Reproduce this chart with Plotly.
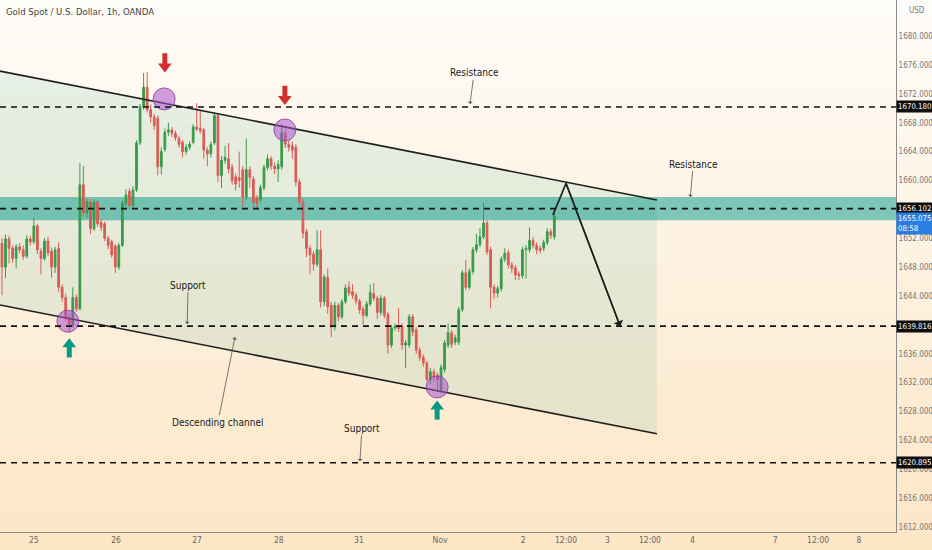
import plotly.graph_objects as go

# ---------------- data ----------------
opens = [1651.3,1648.0,1651.9,1650.6,1649.2,1650.8,1650.4,1649.5,1651.9,1651.5,
         1653.7,1650.2,1649.2,1651.6,1650.2,1648.0,1650.6,1645.2,1643.8,1641.1,
         1639.9,1643.8,1642.2,1659.4,1655.5,1657.0,1653.3,1657.0,1654.2,1654.0,
         1652.0,1651.5,1650.9,1648.0,1651.0,1656.8,1658.5,1656.5,1658.7,1665.2,
         1670.2,1672.9,1669.8,1668.8,1668.6,1661.9,1664.3,1666.7,1667.0,1666.5,
         1665.8,1665.3,1664.0,1664.6,1665.3,1667.4,1667.2,1667.0,1664.2,1663.7,
         1665.2,1669.0,1660.7,1662.8,1663.0,1661.8,1660.5,1660.4,1661.5,1657.7,
         1661.5,1660.2,1657.6,1657.4,1659.0,1661.8,1663.0,1662.0,1661.6,1661.9,
         1666.5,1665.0,1664.8,1664.6,1659.8,1657.0,1652.9,1650.6,1649.8,1648.4,
         1650.4,1643.2,1646.6,1642.7,1639.7,1642.7,1641.1,1643.2,1645.2,1644.6,
         1644.1,1643.3,1642.2,1641.3,1642.9,1644.3,1643.7,1641.7,1643.7,1641.4,
         1637.2,1639.6,1639.9,1639.8,1637.2,1637.2,1641.1,1639.3,1636.5,1635.5,
         1634.7,1632.4,1633.5,1633.0,1631.0,1633.8,1637.2,1638.9,1637.6,1637.6,
         1642.1,1647.2,1645.2,1647.4,1650.4,1651.1,1652.2,1654.1,1650.4,1645.2,
         1644.4,1645.0,1649.1,1650.0,1648.3,1647.9,1647.0,1646.8,1650.4,1650.4,
         1651.7,1651.0,1650.6,1650.6,1651.4,1652.9,1652.2]
highs = [1652.0,1652.5,1652.3,1651.0,1651.2,1651.3,1651.0,1652.4,1652.3,1654.9,
         1654.0,1650.6,1652.0,1652.2,1650.7,1650.8,1651.4,1645.6,1644.3,1641.6,
         1645.2,1644.2,1662.4,1662.0,1657.5,1657.4,1657.4,1657.3,1654.6,1654.3,
         1652.3,1651.8,1651.2,1651.4,1657.2,1658.8,1658.9,1659.2,1665.6,1670.6,
         1674.9,1675.0,1670.5,1669.2,1669.0,1664.6,1667.2,1668.0,1667.4,1666.9,
         1666.2,1665.6,1665.0,1665.4,1667.8,1670.7,1669.8,1667.3,1664.6,1665.4,
         1669.4,1669.3,1663.4,1664.8,1665.2,1662.3,1661.0,1664.0,1662.0,1665.8,
         1662.0,1660.6,1658.0,1659.4,1662.2,1663.6,1663.4,1662.5,1662.8,1667.8,
         1667.0,1665.5,1665.4,1665.0,1660.2,1657.4,1653.3,1651.0,1650.2,1653.1,
         1653.1,1647.0,1647.8,1643.2,1643.2,1643.0,1643.6,1645.6,1646.0,1645.6,
         1644.5,1643.6,1642.6,1643.3,1645.6,1645.8,1644.0,1644.1,1644.0,1641.8,
         1640.0,1640.2,1642.3,1640.2,1637.9,1641.5,1641.5,1639.7,1636.9,1635.9,
         1635.0,1634.0,1633.9,1633.4,1634.5,1637.9,1640.2,1639.3,1638.6,1642.5,
         1647.6,1649.0,1647.8,1650.8,1652.6,1653.4,1656.9,1654.5,1650.8,1645.6,
         1645.4,1649.5,1650.6,1650.4,1648.7,1648.3,1647.4,1650.8,1651.0,1653.5,
         1652.2,1651.4,1651.0,1651.8,1653.4,1653.3,1655.9]
lows = [1644.1,1646.5,1648.5,1648.6,1647.8,1649.9,1649.0,1649.2,1651.0,1651.2,
        1649.8,1647.0,1648.9,1649.5,1646.5,1647.2,1644.6,1643.2,1640.5,1638.9,
        1639.6,1641.8,1642.0,1655.0,1654.8,1652.6,1653.0,1653.6,1653.0,1651.6,
        1650.5,1649.3,1647.2,1647.6,1650.8,1656.4,1656.0,1655.9,1658.4,1664.9,
        1669.8,1669.4,1668.0,1667.0,1660.7,1660.8,1664.0,1666.2,1666.0,1665.5,
        1664.5,1663.2,1663.6,1664.2,1665.0,1666.8,1666.5,1663.0,1662.0,1663.2,
        1664.9,1659.8,1659.0,1662.3,1661.0,1659.4,1658.6,1659.0,1656.3,1657.3,
        1659.0,1656.2,1656.0,1657.0,1658.6,1661.4,1661.5,1660.9,1659.8,1661.5,
        1664.5,1664.0,1663.0,1659.2,1656.4,1652.0,1649.4,1647.0,1647.5,1648.0,
        1642.4,1642.6,1641.5,1638.3,1639.2,1640.5,1640.8,1642.9,1644.0,1643.6,
        1642.8,1641.5,1640.0,1641.0,1642.6,1643.3,1640.8,1641.3,1640.9,1636.0,
        1636.8,1639.2,1639.0,1636.5,1634.0,1636.8,1638.4,1636.0,1635.0,1634.2,
        1632.2,1631.8,1632.2,1630.7,1630.6,1633.4,1636.8,1636.8,1637.2,1637.2,
        1641.8,1644.8,1644.9,1647.0,1650.0,1650.8,1651.9,1649.7,1642.3,1643.6,
        1643.8,1644.6,1648.7,1647.8,1647.2,1646.2,1646.2,1646.4,1646.4,1650.0,
        1650.6,1649.8,1649.9,1650.2,1651.0,1651.9,1651.8]
closes = [1648.0,1651.9,1650.6,1649.2,1650.8,1650.4,1649.5,1651.9,1651.5,1653.7,
          1650.4,1649.2,1651.6,1650.0,1648.0,1650.4,1645.2,1643.8,1641.1,1639.9,
          1643.8,1642.2,1659.4,1655.5,1657.0,1653.3,1657.0,1654.0,1653.5,1652.0,
          1651.0,1649.7,1648.0,1651.0,1656.8,1658.0,1656.5,1658.7,1665.2,1670.2,
          1672.9,1669.8,1668.8,1667.6,1661.9,1664.0,1666.7,1667.0,1666.5,1665.9,
          1665.0,1664.0,1664.6,1665.0,1667.4,1667.1,1666.9,1664.2,1663.7,1665.0,
          1669.0,1660.7,1662.8,1663.2,1661.6,1660.0,1659.5,1660.0,1657.7,1661.5,
          1660.4,1657.0,1656.8,1659.0,1661.8,1663.0,1662.0,1661.6,1662.2,1666.6,
          1665.0,1664.6,1664.2,1659.8,1657.0,1652.7,1650.6,1649.7,1648.4,1650.4,
          1643.2,1646.6,1642.5,1639.7,1642.7,1641.1,1643.2,1645.1,1644.4,1644.1,
          1643.3,1642.1,1641.3,1642.9,1644.5,1643.7,1641.7,1643.7,1641.3,1637.2,
          1639.6,1639.8,1639.5,1637.2,1637.5,1641.1,1639.0,1636.5,1635.5,1634.7,
          1632.4,1633.5,1632.8,1632.4,1634.1,1637.5,1638.9,1637.3,1638.2,1642.1,
          1647.2,1645.2,1647.4,1650.4,1651.1,1652.2,1654.1,1650.1,1645.2,1644.4,
          1645.0,1649.1,1649.9,1648.3,1647.8,1646.9,1646.8,1650.4,1650.6,1651.7,
          1651.0,1650.4,1650.3,1651.4,1652.9,1652.4,1655.075]
bars = list(range(len(closes)))

tick_pos = [9.0, 32.2, 55.1, 78.2, 100.8, 123.7, 147.2, 159.3, 171.0, 183.0, 195.0, 218.4, 230.5, 242.0]
tick_text = ["25", "26", "27", "28", "31", "Nov", "2", "12:00", "3", "12:00", "4", "7", "12:00", "8"]
price_ticks = [1612, 1616, 1620, 1624, 1628, 1632, 1636, 1640, 1644, 1648, 1652, 1656,
               1660, 1664, 1668, 1672, 1676, 1680]

level_values = [1670.180, 1656.102, 1639.816, 1620.895]
level_labels = ["1670.180", "1656.102", "1639.816", "1620.895"]
zone_low, zone_high = 1654.5, 1657.7
last_price_label = "1655.075<br>08:58"

channel_x = [-0.56, 185.0]
channel_upper = [1675.15, 1657.3]
channel_lower = [1642.74, 1624.9]

circle_x = [45.8, 79.9, 18.6, 122.9]
circle_y = [1671.3, 1667.0, 1640.5, 1631.4]
down_arrow_x = [46.0, 79.9]
down_arrow_y = [1676.3, 1671.8]
up_arrow_x = [19.0, 122.9]
up_arrow_y = [1636.8, 1628.2]

proj_x = [155.6, 159.3, 174.6]
proj_y = [1655.2, 1659.6, 1639.8]

notes = [  # text, tip x, tip y, ax, ay
    ("Resistance", 132.2, 1670.6, 4, -31),
    ("Resistance", 194.4, 1657.7, 3, -33),
    ("Support", 52.3, 1640.1, 1, -39),
    ("Support", 101.1, 1621.1, 2, -33),
    ("Descending channel", 65.8, 1638.3, -17, 85),
]

X_RANGE = [-0.56, 252.5]
Y_RANGE = [1611.3, 1685.0]
FONT = "DejaVu Sans Condensed, Liberation Sans Narrow, Liberation Sans, sans-serif"

fig = go.Figure()

# gradient background bands
n_bands = 40
top_rgb = (254, 252, 248)
bot_rgb = (253, 230, 198)
shapes = []
y_lo, y_hi = -18 / 532, 1.0
for k in range(n_bands):
    t = k / (n_bands - 1)
    r = round(bot_rgb[0] + (top_rgb[0] - bot_rgb[0]) * t)
    g = round(bot_rgb[1] + (top_rgb[1] - bot_rgb[1]) * t)
    b = round(bot_rgb[2] + (top_rgb[2] - bot_rgb[2]) * t)
    y0 = y_lo + (y_hi - y_lo) * k / n_bands
    y1 = y_lo + (y_hi - y_lo) * (k + 1) / n_bands + 0.002
    shapes.append(dict(type="rect", xref="paper", yref="paper", x0=0, x1=1.05,
                       y0=y0, y1=y1, fillcolor=f"rgb({r},{g},{b})",
                       line=dict(width=0), layer="below"))

# teal zone
shapes.append(dict(type="rect", xref="paper", yref="y", x0=0, x1=1,
                   y0=zone_low, y1=zone_high, fillcolor="rgba(38,166,154,0.6)",
                   line=dict(width=0), layer="below"))

# channel shading
fig.add_trace(go.Scatter(
    x=[channel_x[0], channel_x[1], channel_x[1], channel_x[0], channel_x[0]],
    y=[channel_upper[0], channel_upper[1], channel_lower[1], channel_lower[0], channel_upper[0]],
    fill="toself", fillcolor="rgba(40,165,125,0.11)", mode="none",
    hoverinfo="skip", showlegend=False))

# candles
fig.add_trace(go.Candlestick(
    x=bars, open=opens, high=highs, low=lows, close=closes,
    increasing=dict(line=dict(color="#3a9a45", width=1), fillcolor="#3a9a45"),
    decreasing=dict(line=dict(color="#ef5350", width=1), fillcolor="#ef5350"),
    whiskerwidth=0, showlegend=False, hoverinfo="skip"))

# dashed levels
for v in level_values:
    shapes.append(dict(type="line", xref="paper", yref="y", x0=0, x1=1, y0=v, y1=v,
                       line=dict(color="#111", width=1.6, dash="6px,5px")))

# channel lines
fig.add_trace(go.Scatter(x=channel_x, y=channel_upper, mode="lines",
                         line=dict(color="#1e1e1e", width=1.6), showlegend=False, hoverinfo="skip"))
fig.add_trace(go.Scatter(x=channel_x, y=channel_lower, mode="lines",
                         line=dict(color="#1e1e1e", width=1.6), showlegend=False, hoverinfo="skip"))

# circles
fig.add_trace(go.Scatter(x=circle_x, y=circle_y, mode="markers",
                         marker=dict(size=22, color="rgba(170,80,200,0.55)",
                                     line=dict(color="rgba(140,60,170,0.8)", width=1)),
                         showlegend=False, hoverinfo="skip"))

# block arrows (shaft + head)
fig.add_trace(go.Scatter(x=down_arrow_x, y=[v + 0.55 for v in down_arrow_y], mode="markers",
                         marker=dict(symbol="line-ns", size=8, line=dict(color="#d32f2f", width=5)),
                         showlegend=False, hoverinfo="skip"))
fig.add_trace(go.Scatter(x=down_arrow_x, y=[v - 0.5 for v in down_arrow_y], mode="markers",
                         marker=dict(symbol="triangle-down", size=12, color="#d32f2f", line=dict(width=0)),
                         showlegend=False, hoverinfo="skip"))
fig.add_trace(go.Scatter(x=up_arrow_x, y=[v - 0.55 for v in up_arrow_y], mode="markers",
                         marker=dict(symbol="line-ns", size=8, line=dict(color="#089981", width=5)),
                         showlegend=False, hoverinfo="skip"))
fig.add_trace(go.Scatter(x=up_arrow_x, y=[v + 0.5 for v in up_arrow_y], mode="markers",
                         marker=dict(symbol="triangle-up", size=12, color="#089981", line=dict(width=0)),
                         showlegend=False, hoverinfo="skip"))

# projection path
fig.add_trace(go.Scatter(x=proj_x, y=proj_y, mode="lines",
                         line=dict(color="#1e1e1e", width=1.6), showlegend=False, hoverinfo="skip"))

annotations = []
annotations.append(dict(x=proj_x[-1], y=proj_y[-1], ax=proj_x[-2], ay=proj_y[-2],
                        xref="x", yref="y", axref="x", ayref="y", text="",
                        showarrow=True, arrowhead=1, arrowsize=1.2, arrowwidth=1.4,
                        arrowcolor="#1e1e1e"))

for text, tx, ty, ax, ay in notes:
    annotations.append(dict(x=tx, y=ty, ax=ax, ay=ay, xref="x", yref="y", text=text,
                            showarrow=True, arrowhead=1, arrowsize=1, arrowwidth=0.8,
                            arrowcolor="#555", font=dict(family=FONT, size=10, color="#1a1a1a")))

# right-side price labels
for v, lab in zip(level_values, level_labels):
    annotations.append(dict(x=1.0, y=v, xref="paper", yref="y", xanchor="left", yanchor="middle",
                            text=lab, showarrow=False, bgcolor="#0d0d0d", borderpad=1,
                            font=dict(family=FONT, size=7.8, color="white")))
annotations.append(dict(x=1.0, y=closes[-1] + 0.5, xref="paper", yref="y", xanchor="left",
                        yanchor="top", text=last_price_label, showarrow=False, bgcolor="#2a7de1",
                        borderpad=1, align="left",
                        font=dict(family=FONT, size=7.8, color="white")))

annotations.append(dict(x=0.005, y=0.992, xref="paper", yref="paper", xanchor="left", yanchor="top",
                        text="Gold Spot / U.S. Dollar, 1h, OANDA", showarrow=False,
                        font=dict(family=FONT, size=9.5, color="#444")))
annotations.append(dict(x=1.012, y=0.992, xref="paper", yref="paper", xanchor="left", yanchor="top",
                        text="USD", showarrow=False, font=dict(family=FONT, size=8, color="#777")))

fig.update_layout(
    width=932, height=550,
    margin=dict(l=0, r=36, t=0, b=18),
    paper_bgcolor="#fde6c6", plot_bgcolor="rgba(0,0,0,0)",
    shapes=shapes, annotations=annotations, showlegend=False,
    xaxis=dict(range=X_RANGE, showgrid=False, zeroline=False, rangeslider=dict(visible=False),
               tickmode="array", tickvals=tick_pos, ticktext=tick_text,
               tickfont=dict(family=FONT, size=8.5, color="#666"), ticks="",
               showline=True, linecolor="#8a8a8a", linewidth=1, automargin=False),
    yaxis=dict(range=Y_RANGE, side="right", showgrid=False, zeroline=False,
               tickmode="array", tickvals=price_ticks,
               ticktext=[f"{v:.3f}" for v in price_ticks],
               tickfont=dict(family=FONT, size=8, color="#777"), ticks="",
               showline=True, linecolor="#8a8a8a", linewidth=1, automargin=False),
)

fig.write_html("out.html", config={"displayModeBar": False},
               post_script="document.body.style.margin='0';document.body.style.padding='0';"
                           "document.documentElement.style.overflow='hidden';")
